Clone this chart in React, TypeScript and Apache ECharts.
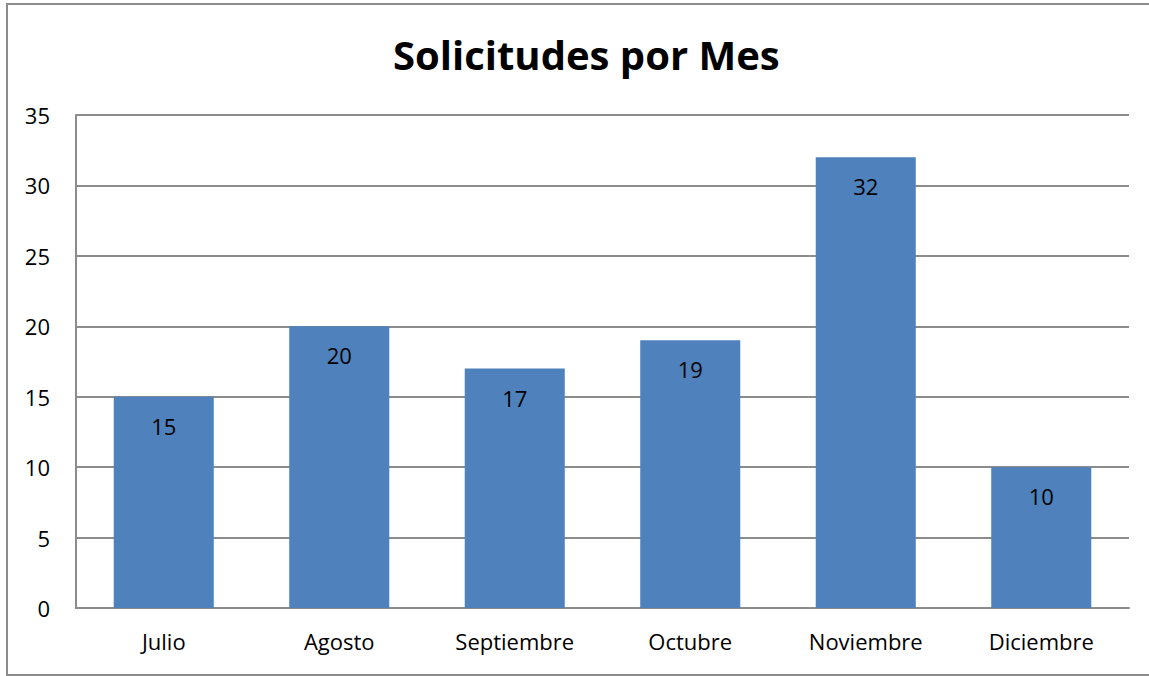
import React, { useEffect, useRef } from "react";
import * as echarts from "echarts";

const categories = ["Julio", "Agosto", "Septiembre", "Octubre", "Noviembre", "Diciembre"];
const values = [15, 20, 17, 19, 32, 10];
const titleText = "Solicitudes por Mes";

export default function App() {
  const ref = useRef<HTMLDivElement>(null);
  useEffect(() => {
    document.body.style.margin = "0";
    const chart = echarts.init(ref.current!, null, { renderer: "svg" });
    const font = "'Open Sans', 'Noto Sans', sans-serif";
    chart.setOption({
      animation: false,
      backgroundColor: "#ffffff",
      title: {
        text: titleText,
        left: 388,
        top: 29,
        textStyle: { fontFamily: font, fontSize: 40, fontWeight: "bold", color: "#000" },
      },
      graphic: [
        {
          type: "rect",
          shape: { x: 7, y: 4, width: 1160, height: 671 },
          style: { fill: "none", stroke: "#8c8c8c", lineWidth: 2 },
          silent: true,
        },
      ],
      grid: { left: 76, right: 20, top: 115, bottom: 68 },
      xAxis: {
        type: "category",
        data: categories,
        axisLine: { show: true, lineStyle: { color: "#8c8c8c", width: 2 } },
        axisTick: { show: false },
        axisLabel: { fontFamily: font, fontSize: 22, color: "#000", margin: 22 },
      },
      yAxis: {
        type: "value",
        min: 0,
        max: 35,
        interval: 5,
        axisLine: { show: true, lineStyle: { color: "#8c8c8c", width: 2 } },
        axisTick: { show: false },
        splitLine: { lineStyle: { color: "#8c8c8c", width: 2 } },
        axisLabel: { fontFamily: font, fontSize: 22, color: "#000", margin: 26 },
      },
      series: [
        {
          type: "bar",
          data: values,
          barWidth: "57%",
          itemStyle: { color: "#4f81bd" },
          label: {
            show: true,
            position: "insideTop",
            distance: 18,
            fontFamily: font,
            fontSize: 22,
            color: "#000",
          },
        },
      ],
    });
    return () => chart.dispose();
  }, []);
  return (
    <div
      ref={ref}
      style={{ position: "absolute", left: 0, top: 0, width: 1149, height: 676 }}
    />
  );
}
